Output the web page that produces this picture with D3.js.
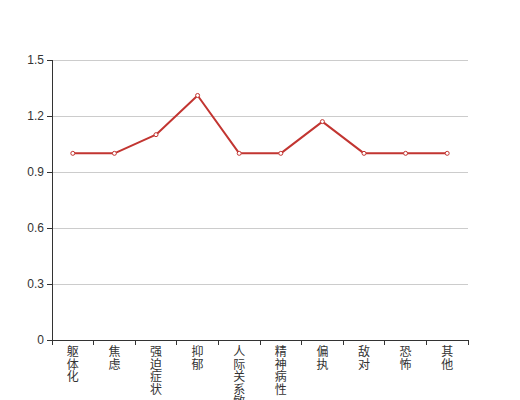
<!DOCTYPE html>
<meta charset="utf-8">
<script src="https://d3js.org/d3.v7.min.js"></script>
<style>
  body { margin: 0; background: #fff; }
</style>
<div id="my_dataviz"></div>
<script>
// data
var categories = ["躯体化", "焦虑", "强迫症状", "抑郁", "人际关系敏感", "精神病性", "偏执", "敌对", "恐怖", "其他"];
var values = [1, 1, 1.1, 1.31, 1, 1, 1.17, 1, 1, 1];
var yTicks = [0, 0.3, 0.6, 0.9, 1.2, 1.5];

var margin = {top: 60, right: 52, bottom: 60, left: 52},
    width = 520 - margin.left - margin.right,
    height = 400 - margin.top - margin.bottom;

var svg = d3.select("#my_dataviz")
  .append("svg")
    .attr("width", 520)
    .attr("height", 400)
  .append("g")
    .attr("transform", "translate(" + margin.left + "," + margin.top + ")");

var x = d3.scaleBand()
  .domain(categories)
  .range([0, width]);

var y = d3.scaleLinear()
  .domain([0, 1.5])
  .range([height, 0]);

// grid lines
svg.append("g")
  .selectAll("line")
  .data(yTicks.filter(function(d) { return d > 0; }))
  .enter()
  .append("line")
    .attr("x1", 0)
    .attr("x2", width)
    .attr("y1", function(d) { return y(d); })
    .attr("y2", function(d) { return y(d); })
    .attr("stroke", "#ccc")
    .attr("stroke-width", 1)
    .attr("shape-rendering", "crispEdges");

// y axis
var yAxis = svg.append("g")
  .call(d3.axisLeft(y).tickValues(yTicks).tickSize(5).tickPadding(3)
    .tickFormat(function(d) { return d === 0 ? "0" : d3.format(".1f")(d); }));
yAxis.select(".domain").attr("stroke", "#333").attr("shape-rendering", "crispEdges");
yAxis.selectAll(".tick line").attr("stroke", "#333");
yAxis.selectAll("text")
  .attr("fill", "#333")
  .style("font-size", "12px")
  .style("font-family", "sans-serif");

// x axis (ticks at band boundaries)
var xg = svg.append("g")
  .attr("transform", "translate(0," + height + ")");
xg.append("line")
  .attr("x1", 0).attr("x2", width)
  .attr("stroke", "#333")
  .attr("shape-rendering", "crispEdges");
var bounds = categories.map(function(d) { return x(d); }).concat([width]);
xg.selectAll(".xt")
  .data(bounds)
  .enter()
  .append("line")
    .attr("x1", function(d) { return d; })
    .attr("x2", function(d) { return d; })
    .attr("y1", 0)
    .attr("y2", 5)
    .attr("stroke", "#333")
    .attr("shape-rendering", "crispEdges");

// vertical category labels, one character per line
xg.selectAll(".xl")
  .data(categories)
  .enter()
  .append("text")
    .attr("fill", "#333")
    .attr("text-anchor", "middle")
    .style("font-size", "12px")
    .style("font-family", "'Noto Sans CJK SC', sans-serif")
    .each(function(d) {
      var t = d3.select(this);
      var cx = x(d) + x.bandwidth() / 2;
      d.split("").forEach(function(c, i) {
        t.append("tspan")
          .attr("x", cx)
          .attr("y", 16 + i * 12.5)
          .text(c);
      });
    });

// line
var line = d3.line()
  .x(function(d, i) { return x(categories[i]) + x.bandwidth() / 2; })
  .y(function(d) { return y(d); });

svg.append("path")
  .datum(values)
  .attr("fill", "none")
  .attr("stroke", "#c23531")
  .attr("stroke-width", 2)
  .attr("stroke-linejoin", "round")
  .attr("d", line);

// points
svg.selectAll(".pt")
  .data(values)
  .enter()
  .append("circle")
    .attr("cx", function(d, i) { return x(categories[i]) + x.bandwidth() / 2; })
    .attr("cy", function(d) { return y(d); })
    .attr("r", 2)
    .attr("fill", "#fff")
    .attr("stroke", "#c23531")
    .attr("stroke-width", 1);
</script>
